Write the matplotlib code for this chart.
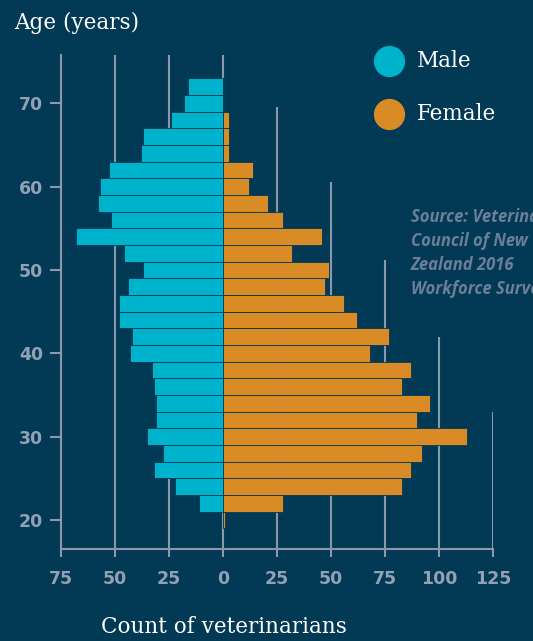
import matplotlib
matplotlib.use("Agg")
import matplotlib.pyplot as plt
from matplotlib.lines import Line2D
import numpy as np

BG = "#023955"
MALE_C = "#00b3cc"
FEMALE_C = "#d98b26"
GRID_C = "#8a98aa"
TICK_TXT = "#93a1b4"
SOURCE_C = "#6b7f98"

# age groups (2-year bins, bottom to top)
ages = [20, 22, 24, 26, 28, 30, 32, 34, 36, 38, 40, 42, 44, 46,
        48, 50, 52, 54, 56, 58, 60, 62, 64, 66, 68, 70, 72]
male = [0, 11, 22, 32, 28, 35, 31, 31, 32, 33, 43, 42, 48, 48,
        44, 37, 46, 68, 52, 58, 57, 53, 38, 37, 24, 18, 16]
female = [1, 28, 83, 87, 92, 113, 90, 96, 83, 87, 68, 77, 62, 56,
          47, 49, 32, 46, 28, 21, 12, 14, 3, 3, 3, 0, 0]

x_ticks = [-75, -50, -25, 0, 25, 50, 75, 100, 125]
x_labels = ["75", "50", "25", "0", "25", "50", "75", "100", "125"]
y_ticks = [20, 30, 40, 50, 60, 70]
# staircase tops of the vertical guide lines (keeps legend/source clear)
grid_tops = [75.8, 75.8, 75.8, 75.8, 69.6, 60.5, 51.2, 42.0, 32.9]

Y_MIN, Y_MAX = 16.5, 75.8

fig = plt.figure(figsize=(5.33, 6.41), dpi=100)
fig.patch.set_facecolor(BG)
ax = fig.add_axes([61 / 533, 1 - 549 / 641, 432 / 533, 494 / 641])
ax.set_facecolor(BG)
ax.set_xlim(-75, 125)
ax.set_ylim(Y_MIN, Y_MAX)

ax.vlines(x_ticks, Y_MIN, grid_tops, color=GRID_C, lw=1.5, zorder=1)

ax.barh(ages, -np.array(male), height=2, color=MALE_C, edgecolor=BG, linewidth=0.6, zorder=2)
ax.barh(ages, female, height=2, color=FEMALE_C, edgecolor=BG, linewidth=0.6, zorder=2)

for s in ["top", "right"]:
    ax.spines[s].set_visible(False)
for s in ["left", "bottom"]:
    ax.spines[s].set_color(GRID_C)
    ax.spines[s].set_linewidth(1.5)

ax.set_xticks(x_ticks)
ax.set_xticklabels(x_labels)
ax.set_yticks(y_ticks)
ax.tick_params(axis="x", length=6, width=1.5, color=GRID_C, pad=9, labelcolor=TICK_TXT, labelsize=12.5)
ax.tick_params(axis="y", length=8, width=1.5, color=GRID_C, pad=5, labelcolor=TICK_TXT, labelsize=12.5)
for lab in ax.get_xticklabels() + ax.get_yticklabels():
    lab.set_fontweight("bold")

serif = "DejaVu Serif"
fig.text(14 / 533, 1 - 23 / 641, "Age (years)", color="white", fontsize=15.5,
         family=serif, ha="left", va="center")
fig.text(224 / 533, 1 - 627 / 641, "Count of veterinarians", color="white", fontsize=15.5,
         family=serif, ha="center", va="center")

# legend
for yy, col, name in [(61, MALE_C, "Male"), (114, FEMALE_C, "Female")]:
    fig.add_artist(Line2D([389 / 533], [1 - yy / 641], marker="o", markersize=21.5,
                          color=col, linestyle="none", transform=fig.transFigure))
    fig.text(417 / 533, 1 - yy / 641, name, color="white", fontsize=15.5,
             family=serif, ha="left", va="center")

fig.text(411 / 533, 1 - 208 / 641,
         "Source: Veterinary\nCouncil of New\nZealand 2016\nWorkforce Survey",
         color=SOURCE_C, fontsize=12, family="Open Sans", fontweight="bold",
         style="italic", ha="left", va="top", linespacing=1.42)

fig.savefig("out.png", dpi=100, facecolor=BG)
